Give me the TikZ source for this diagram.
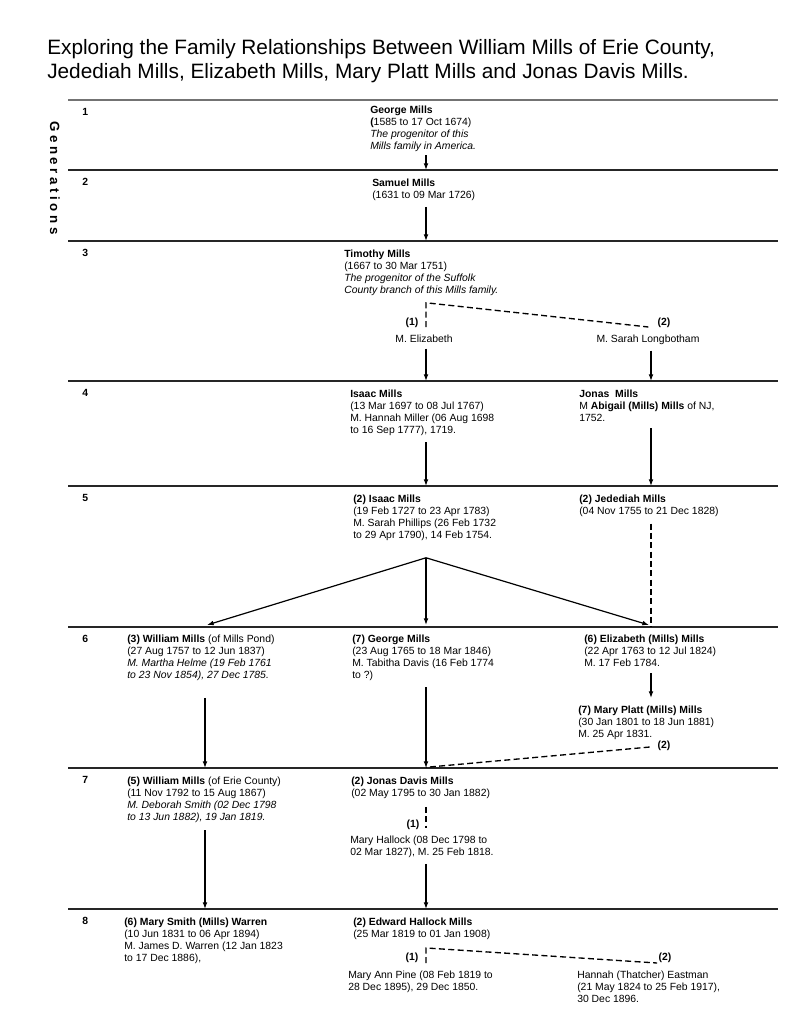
\documentclass[tikz,border=0pt]{standalone}
\usepackage{fontspec}
\setmainfont{Liberation Sans}
\usetikzlibrary{arrows.meta}

\newcommand{\colA}{205}
\newcommand{\colB}{426}
\newcommand{\colC}{651}

\begin{document}
\begin{tikzpicture}[x=0.75pt,y=-0.75pt,
    person/.style={anchor=north west,inner sep=0pt,align=left,
      font=\fontsize{7.8}{8.8}\selectfont},
    spouse/.style={anchor=north,inner sep=0pt,font=\fontsize{7.8}{8.8}\selectfont},
    tag/.style={inner sep=0pt,font=\fontsize{7.8}{8.8}\selectfont\bfseries},
    arr/.style={line width=0.9pt,-{Latex[length=5pt,width=3.6pt]}},
    wed/.style={line width=1pt,dash pattern=on 4.5pt off 2.5pt}]

  \useasboundingbox (0,0) rectangle (800,1035);

  \node[anchor=north west,inner sep=0pt,align=left,
    font=\fontsize{15.6}{18}\selectfont] (title) at (47,39)
    {Exploring the Family Relationships Between William Mills of Erie County,\\
     Jedediah Mills, Elizabeth Mills, Mary Platt Mills and Jonas Davis Mills.};

  \node[rotate=-90,inner sep=0pt,
    font=\fontsize{10}{12}\selectfont\bfseries\addfontfeature{LetterSpace=27}]
    (gens) at (55,178) {Generations};

  \coordinate (cA) at (\colA,0);
  \coordinate (cB) at (\colB,0);
  \coordinate (cC) at (\colC,0);

  \foreach \n/\y/\w/\c in {1/100/1.6pt/black!55,2/170/0.8pt/black!85,
      3/241/0.8pt/black!85,4/381/0.8pt/black!85,5/486/0.8pt/black!85,
      6/627/0.8pt/black!85,7/768/0.8pt/black!85,8/909/0.8pt/black!85}{
    \draw[line width=\w,\c] (68,\y) coordinate (r\n) -- (778,\y);
    \node[tag,anchor=north west] (g\n) at (82,\y+8) {\n};
  }

  % generations 1 to 3
  \node[person] (george) at (370,106)
    {\textbf{George Mills}\\\textbf{(}1585 to 17 Oct 1674)\\
     \textit{The progenitor of this}\\\textit{Mills family in America.}};
  \node[person] (samuel) at (372,179)
    {\textbf{Samuel Mills}\\(1631 to 09 Mar 1726)};
  \node[person] (timothy) at (344,250)
    {\textbf{Timothy Mills}\\(1667 to 30 Mar 1751)\\
     \textit{The progenitor of the Suffolk}\\
     \textit{County branch of this Mills family.}};
  \node[spouse] (mElizabeth) at (424,335) {M. Elizabeth};
  \node[spouse] (mSarah) at (648,335) {M. Sarah Longbotham};
  \node[tag] (t1) at (412,323) {(1)};
  \node[tag] (t2) at (664,323) {(2)};

  \draw[arr] ([yshift=-3pt]george.south -| cB) -- (r2 -| cB);
  \draw[arr] ([yshift=-4.5pt]samuel.south -| cB) -- (r3 -| cB);
  \draw[wed] ([yshift=6pt]mElizabeth.north -| cB)
    -- ([yshift=-5.5pt]timothy.south -| cB)
    -- ([yshift=6pt,xshift=-2pt]mSarah.north -| cC);
  \draw[arr] ([yshift=-4pt]mElizabeth.south -| cB) -- (r4 -| cB);
  \draw[arr] ([yshift=-4pt]mSarah.south -| cC) -- (r4 -| cC);

  % generations 4 and 5
  \node[person] (isaac) at (350,390)
    {\textbf{Isaac Mills}\\(13 Mar 1697 to 08 Jul 1767)\\
     M. Hannah Miller (06 Aug 1698\\to 16 Sep 1777), 1719.};
  \node[person] (jonas) at (579,390)
    {\textbf{Jonas\ \ Mills}\\M \textbf{Abigail (Mills) Mills} of NJ,\\1752.};
  \node[person] (isaacII) at (353,495)
    {\textbf{(2) Isaac Mills}\\(19 Feb 1727 to 23 Apr 1783)\\
     M. Sarah Phillips (26 Feb 1732\\to 29 Apr 1790), 14 Feb 1754.};
  \node[person] (jedediah) at (579,495)
    {\textbf{(2) Jedediah Mills}\\(04 Nov 1755 to 21 Dec 1828)};

  \draw[arr] ([yshift=-5pt]isaac.south -| cB) -- (r5 -| cB);
  \draw[arr] ([yshift=-5pt]jonas.south -| cC) -- (r5 -| cC);
  \coordinate (apex) at ([yshift=-13pt]isaacII.south -| cB);
  \path (r6 -| cA) ++(2,-2) coordinate (tipA);
  \draw[arr] (apex) -- (tipA);
  \draw[arr] (apex) -- ([yshift=1.5pt]r6 -| cB);
  \draw[arr] (apex) -- ([yshift=1.5pt,xshift=-1.5pt]r6 -| cC);
  \draw[wed] ([yshift=-5pt]jedediah.south -| cC) -- (r6 -| cC);

  % generation 6
  \node[person] (williamIII) at (127,635)
    {\textbf{(3) William Mills} (of Mills Pond)\\(27 Aug 1757 to 12 Jun 1837)\\
     \textit{M. Martha Helme (19 Feb 1761}\\\textit{to 23 Nov 1854), 27 Dec 1785.}};
  \node[person] (georgeVII) at (352,635)
    {\textbf{(7) George Mills}\\(23 Aug 1765 to 18 Mar 1846)\\
     M. Tabitha Davis (16 Feb 1774\\to ?)};
  \node[person] (elizabeth) at (584,635)
    {\textbf{(6) Elizabeth (Mills) Mills}\\(22 Apr 1763 to 12 Jul 1824)\\
     M. 17 Feb 1784.};
  \node[person] (maryplatt) at (578,706)
    {\textbf{(7) Mary Platt (Mills) Mills}\\(30 Jan 1801 to 18 Jun 1881)\\
     M. 25 Apr 1831.};
  \node[tag] (t3) at (664,746) {(2)};

  \draw[arr] ([yshift=-13pt]williamIII.south -| cA) -- (r7 -| cA);
  \draw[arr] ([yshift=-5pt]georgeVII.south -| cB) -- (r7 -| cB);
  \draw[arr] ([yshift=-5pt]elizabeth.south -| cC) -- ([yshift=6pt]maryplatt.north -| cC);
  \draw[wed] ([yshift=-5.5pt,xshift=-1pt]maryplatt.south -| cC) -- ([yshift=0.5pt]r7 -| cB);

  % generation 7
  \node[person] (williamV) at (127,777)
    {\textbf{(5) William Mills} (of Erie County)\\(11 Nov 1792 to 15 Aug 1867)\\
     \textit{M. Deborah Smith (02 Dec 1798}\\\textit{to 13 Jun 1882), 19 Jan 1819.}};
  \node[person] (jonasdavis) at (351,777)
    {\textbf{(2) Jonas Davis Mills}\\(02 May 1795 to 30 Jan 1882)};
  \node[person] (hallock) at (350,836)
    {Mary Hallock (08 Dec 1798 to\\02 Mar 1827), M. 25 Feb 1818.};
  \node[tag] (t4) at (413,825) {(1)};

  \draw[arr] ([yshift=-6pt]williamV.south -| cA) -- (r8 -| cA);
  \draw[wed] ([yshift=-6pt]jonasdavis.south -| cB) -- ([yshift=6pt]hallock.north -| cB);
  \draw[arr] ([yshift=-4.5pt]hallock.south -| cB) -- (r8 -| cB);

  % generation 8
  \node[person] (marysmith) at (124,918)
    {\textbf{(6) Mary Smith (Mills) Warren}\\(10 Jun 1831 to 06 Apr 1894)\\
     M. James D. Warren (12 Jan 1823\\to 17 Dec 1886),};
  \node[person] (edward) at (353,918)
    {\textbf{(2) Edward Hallock Mills}\\(25 Mar 1819 to 01 Jan 1908)};
  \node[person] (pine) at (348,971)
    {Mary Ann Pine (08 Feb 1819 to\\28 Dec 1895), 29 Dec 1850.};
  \node[person] (hannah) at (577,971)
    {Hannah (Thatcher) Eastman\\(21 May 1824 to 25 Feb 1917),\\30 Dec 1896.};
  \node[tag] (t5) at (412,958) {(1)};
  \node[tag] (t6) at (665,958) {(2)};

  \draw[wed] ([yshift=6pt]pine.north -| cB)
    -- ([yshift=-6pt]edward.south -| cB)
    -- ([yshift=6pt,xshift=-1pt]hannah.north -| t6.west);
\end{tikzpicture}
\end{document}
